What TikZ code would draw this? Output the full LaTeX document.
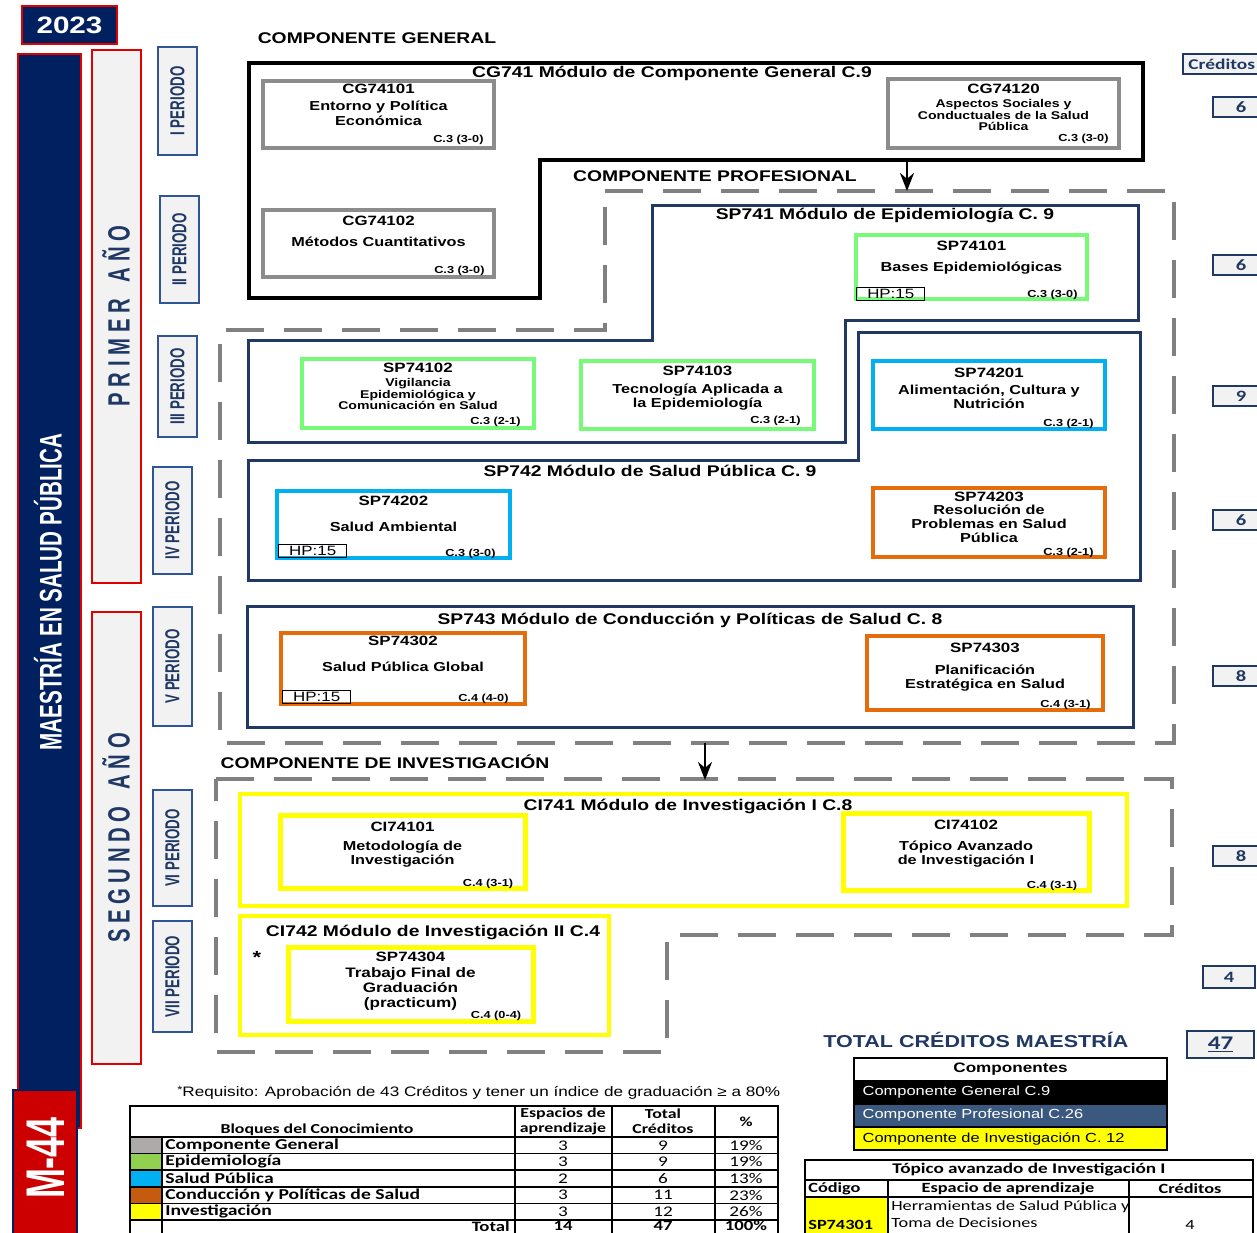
\documentclass[tikz,border=0pt]{standalone}
\usepackage{fontspec}
\setmainfont{Liberation Sans}
\newfontfamily\wfont[FakeStretch=1.25]{Liberation Sans}
\newfontfamily\vfont[FakeStretch=0.66]{Liberation Sans}
\newfontfamily\cfont[FakeStretch=1.3]{Carlito}
\usetikzlibrary{arrows,arrows.meta,positioning,fit,calc}
\definecolor{navybar}{RGB}{0,32,96}
\definecolor{modblue}{RGB}{31,56,100}
\definecolor{perblue}{RGB}{47,85,151}
\definecolor{redline}{RGB}{225,0,0}
\definecolor{m44red}{RGB}{204,0,0}
\definecolor{paper}{RGB}{242,242,242}
\definecolor{boxgray}{RGB}{140,140,140}
\definecolor{dashgray}{RGB}{128,128,128}
\definecolor{epigreen}{RGB}{119,250,119}
\definecolor{spcyan}{RGB}{0,176,240}
\definecolor{condorange}{RGB}{228,108,10}
\definecolor{invyellow}{RGB}{255,255,0}
\definecolor{profblue}{RGB}{59,89,126}
\definecolor{swgray}{RGB}{174,170,170}
\definecolor{swgreen}{RGB}{146,208,80}
\definecolor{swbrown}{RGB}{197,90,17}
\tikzset{
    course/.style={
        draw=#1,
        line width=0.75mm,
        inner sep=0pt,
    },
    ccode/.style={
        inner sep=0pt,
        font=\wfont\bfseries\fontsize{7.7}{8}\selectfont,
    },
    cdesc/.style={
        inner sep=0pt,
        align=center,
        font=\wfont\bfseries\fontsize{7.4}{8}\selectfont,
    },
    cdescs/.style={
        inner sep=0pt,
        align=center,
        font=\wfont\bfseries\fontsize{6.4}{6.8}\selectfont,
    },
    ccred/.style={
        inner sep=0pt,
        font=\wfont\bfseries\fontsize{5.8}{6}\selectfont,
    },
    hpbox/.style={
        draw=black,
        line width=0.25mm,
        inner sep=0pt,
        minimum width=13.6mm,
        minimum height=2.6mm,
        font=\wfont\fontsize{7.7}{8}\selectfont,
    },
    modtitle/.style={
        inner sep=0pt,
        anchor=base,
        font=\wfont\bfseries\fontsize{8.8}{9}\selectfont,
    },
    modline/.style={
        draw=modblue,
        line width=0.6mm,
    },
    zone/.style={
        draw=dashgray,
        line width=0.7mm,
        dash pattern=on 7.6mm off 4mm,
    },
    perbox/.style={
        draw=perblue,
        fill=paper,
        line width=0.3mm,
        inner sep=0pt,
    },
    vlabel/.style={
        rotate=90,
        inner sep=0pt,
        font=\vfont\bfseries\fontsize{11.5}{12}\selectfont,
        text=modblue,
    },
    credbox/.style={
        draw=modblue,
        fill=paper,
        line width=0.35mm,
        inner sep=0pt,
    },
    credtxt/.style={
        inner sep=0pt,
        font=\cfont\bfseries\fontsize{9}{10}\selectfont,
        text=modblue,
    },
    tcell/.style={
        inner sep=0pt,
        font=\cfont\fontsize{8.4}{9}\selectfont,
    },
}

\begin{document}
\begin{tikzpicture}[x=0.2mm,y=-0.2mm,>={Stealth[length=3.6mm,width=2.8mm]}]
    \useasboundingbox (0,0) rectangle (1257,1232);
    \clip (0,0) rectangle (1257,1232);
    \fill[white] (0,0) rectangle (1257,1232);

    \node[draw=redline, fill=navybar, line width=0.5mm, inner sep=0pt, fit={(22,6)(117,44)}] (Y2023) {};
    \node[text=white, font=\wfont\bfseries\fontsize{13.5}{14}\selectfont] (Y2023-t) at (Y2023) {2023};
    \node[draw=redline, fill=navybar, line width=0.3mm, inner sep=0pt, fit={(18,54)(81,1128)}] (mbar) {};
    \node[vlabel, text=white, font=\vfont\bfseries\fontsize{17.8}{18}\selectfont] (mbar-t) at (48,592) {MAESTRÍA EN SALUD PÚBLICA};
    \node[draw=navybar, fill=m44red, line width=0.3mm, inner sep=0pt, fit={(13,1090)(77,1250)}] (M44) {};
    \node[vlabel, text=white, font=\vfont\bfseries\fontsize{31}{32}\selectfont] (M44-t) at (46,1158) {M-44};
    \node[draw=redline, fill=paper, line width=0.3mm, inner sep=0pt, fit={(92,50)(141,583)}] (A1) {};
    \node[vlabel, font=\vfont\bfseries\fontsize{17.5}{18}\selectfont] (A1-t) at (116,316) {P R I M E R \ \ A Ñ O};
    \node[draw=redline, fill=paper, line width=0.3mm, inner sep=0pt, fit={(92,612)(141,1064)}] (A2) {};
    \node[vlabel, font=\vfont\bfseries\fontsize{17.5}{18}\selectfont] (A2-t) at (116,838) {S E G U N D O \ \ A Ñ O};
    \foreach \nm/\xa/\ya/\xb/\yb in {I/158/47/197/155, II/160/196/199/303, III/158/336/197/437, IV/153/467/192/574, V/153/607/192/726, VI/153/790/192/906, VII/153/921/192/1032} {
        \node[perbox, fit={(\xa,\ya)(\xb,\yb)}] (per\nm) {};
        \node[vlabel] (per\nm-t) at (per\nm) {\nm\ PERIODO};
    }

    \draw[zone] (605,191) -- (1174,191) -- (1174,743) -- (220,743) -- (220,330) -- (605,330) -- cycle;
    \draw[zone] (216,779) -- (1172,779) -- (1172,935) -- (667,935) -- (667,1052) -- (216,1052) -- cycle;

    \node[modtitle] (compGen) at (377,43.5) {COMPONENTE GENERAL};
    \node[modtitle] (compProf) at (715,181.5) {COMPONENTE PROFESIONAL};
    \node[modtitle] (compInv) at (385,768.5) {COMPONENTE DE INVESTIGACIÓN};

    \draw[line width=0.8mm] (249,63) -- (1143,63) -- (1143,160) -- (540,160) -- (540,298) -- (249,298) -- cycle;
    \node[modtitle] (CG741) at (672,77.5) {CG741 Módulo de Componente General C.9};
    \draw[modline] (652,205) -- (1138,205) -- (1138,320) -- (845,320) -- (845,442) -- (248,442) -- (248,340) -- (652,340) -- cycle;
    \node[modtitle] (SP741) at (885,219.5) {SP741 Módulo de Epidemiología C. 9};
    \draw[modline] (858,332) -- (1140,332) -- (1140,580) -- (248,580) -- (248,460) -- (858,460) -- cycle;
    \node[modtitle] (SP742) at (650,476.5) {SP742 Módulo de Salud Pública C. 9};
    \draw[modline] (247,606) rectangle (1133,727);
    \node[modtitle] (SP743) at (690,624.5) {SP743 Módulo de Conducción y Políticas de Salud C. 8};
    \draw[invyellow, line width=0.8mm] (240,794) rectangle (1127,906);
    \node[modtitle] (CI741) at (688,810.5) {CI741 Módulo de Investigación I C.8};
    \draw[invyellow, line width=0.8mm] (240,916) rectangle (609,1035);
    \node[modtitle] (CI742) at (433,936.5) {CI742 Módulo de Investigación II C.4};
    \node[font=\wfont\bfseries\fontsize{10}{10}\selectfont, inner sep=0pt] (star) at (257,957) {*};

    \coordinate (genOut) at (907,160);
    \coordinate (profIn) at (907,191);
    \coordinate (profOut) at (705,743);
    \coordinate (invIn) at (705,780);
    \draw[->, line width=0.45mm] (genOut) -- (profIn);
    \draw[->, line width=0.45mm] (profOut) -- (invIn);

    \node[course=boxgray, fit={(263,81)(494,148)}] (CG74101) {};
    \node[ccode, below=0.83mm of CG74101.north] (CG74101-c) {CG74101};
    \node[cdesc, below=1.5mm of CG74101-c] (CG74101-d) {Entorno y Política\\Económica};
    \node[ccred, above left=0.9mm and 2.4mm of CG74101.south east] (CG74101-k) {C.3 (3-0)};

    \node[course=boxgray, fit={(888,79)(1119,148)}] (CG74120) {};
    \node[ccode, below=1.4mm of CG74120.north] (CG74120-c) {CG74120};
    \node[cdescs, below=0.83mm of CG74120-c] (CG74120-d) {Aspectos Sociales y\\Conductuales de la Salud\\Pública};
    \node[ccred, above left=1.1mm and 2.4mm of CG74120.south east] (CG74120-k) {C.3 (3-0)};

    \node[course=boxgray, fit={(263,210)(494,277)}] (CG74102) {};
    \node[ccode, below=1.6mm of CG74102.north] (CG74102-c) {CG74102};
    \node[cdesc, below=2.1mm of CG74102-c] (CG74102-d) {Métodos Cuantitativos};
    \node[ccred, above left=0.5mm and 2.2mm of CG74102.south east] (CG74102-k) {C.3 (3-0)};

    \node[course=epigreen, fit={(856,235)(1087,299)}] (SP74101) {};
    \node[ccode, below=1.6mm of SP74101.north] (SP74101-c) {SP74101};
    \node[cdesc, below=2.1mm of SP74101-c] (SP74101-d) {Bases Epidemiológicas};
    \node[ccred, above left=0.1mm and 2.2mm of SP74101.south east] (SP74101-k) {C.3 (3-0)};
    \node[hpbox, above right=0mm and 0.4mm of SP74101.south west] (SP74101-h) {HP:15};

    \node[course=epigreen, fit={(302,359)(534,428)}] (SP74102) {};
    \node[ccode, below=1.2mm of SP74102.north] (SP74102-c) {SP74102};
    \node[cdescs, below=0.83mm of SP74102-c] (SP74102-d) {Vigilancia\\Epidemiológica y\\Comunicación en Salud};
    \node[ccred, above left=0.5mm and 3mm of SP74102.south east] (SP74102-k) {C.3 (2-1)};

    \node[course=epigreen, fit={(581,361)(814,429)}] (SP74103) {};
    \node[ccode, below=1.4mm of SP74103.north] (SP74103-c) {SP74103};
    \node[cdesc, below=1.5mm of SP74103-c] (SP74103-d) {Tecnología Aplicada a\\la Epidemiología};
    \node[ccred, above left=0.9mm and 3mm of SP74103.south east] (SP74103-k) {C.3 (2-1)};

    \node[course=spcyan, fit={(873,361)(1105,429)}] (SP74201) {};
    \node[ccode, below=1.8mm of SP74201.north] (SP74201-c) {SP74201};
    \node[cdesc, below=1.3mm of SP74201-c] (SP74201-d) {Alimentación, Cultura y\\Nutrición};
    \node[ccred, above left=0.3mm and 2.6mm of SP74201.south east] (SP74201-k) {C.3 (2-1)};

    \node[course=spcyan, fit={(277,491)(510,558)}] (SP74202) {};
    \node[ccode, below=1.4mm of SP74202.north] (SP74202-c) {SP74202};
    \node[cdesc, below=3.1mm of SP74202-c] (SP74202-d) {Salud Ambiental};
    \node[ccred, above left=0.1mm and 3.2mm of SP74202.south east] (SP74202-k) {C.3 (3-0)};
    \node[hpbox, above right=0.4mm and 0.6mm of SP74202.south west] (SP74202-h) {HP:15};

    \node[course=condorange, fit={(873,488)(1105,557)}] (SP74203) {};
    \node[ccode, below=1.2mm of SP74203.north] (SP74203-c) {SP74203};
    \node[cdesc, below=0.5mm of SP74203-c] (SP74203-d) {Resolución de\\Problemas en Salud\\Pública};
    \node[ccred, above left=0.1mm and 2.6mm of SP74203.south east] (SP74203-k) {C.3 (2-1)};

    \node[course=condorange, fit={(281,633)(525,704)}] (SP74302) {};
    \node[ccode, below=1mm of SP74302.north] (SP74302-c) {SP74302};
    \node[cdesc, below=3.1mm of SP74302-c] (SP74302-d) {Salud Pública Global};
    \node[ccred, above left=0.3mm and 3.6mm of SP74302.south east] (SP74302-k) {C.4 (4-0)};
    \node[hpbox, above right=0.4mm and 0.6mm of SP74302.south west] (SP74302-h) {HP:15};

    \node[course=condorange, fit={(867,636)(1103,710)}] (SP74303) {};
    \node[ccode, below=1.8mm of SP74303.north] (SP74303-c) {SP74303};
    \node[cdesc, below=2.3mm of SP74303-c] (SP74303-d) {Planificación\\Estratégica en Salud};
    \node[ccred, above left=0.3mm and 2.8mm of SP74303.south east] (SP74303-k) {C.4 (3-1)};

    \node[course=invyellow, line width=1mm, fit={(280,815)(525,888)}] (CI74101) {};
    \node[ccode, below=1.8mm of CI74101.north] (CI74101-c) {CI74101};
    \node[cdesc, below=1.7mm of CI74101-c] (CI74101-d) {Metodología de\\Investigación};
    \node[ccred, above left=0.3mm and 2.8mm of CI74101.south east] (CI74101-k) {C.4 (3-1)};

    \node[course=invyellow, line width=1mm, fit={(843,813)(1089,890)}] (CI74102) {};
    \node[ccode, below=1.8mm of CI74102.north] (CI74102-c) {CI74102};
    \node[cdesc, below=2.1mm of CI74102-c] (CI74102-d) {Tópico Avanzado\\de Investigación I};
    \node[ccred, above left=0.3mm and 2.8mm of CI74102.south east] (CI74102-k) {C.4 (3-1)};

    \node[course=invyellow, line width=1mm, fit={(288,947)(533,1021)}] (SP74304) {};
    \node[ccode, below=1.4mm of SP74304.north] (SP74304-c) {SP74304};
    \node[cdesc, font=\wfont\bfseries\fontsize{7.8}{8.4}\selectfont, below=1.1mm of SP74304-c] (SP74304-d) {Trabajo Final de\\Graduación\\(practicum)};
    \node[ccred, above left=0.5mm and 2.8mm of SP74304.south east] (SP74304-k) {C.4 (0-4)};

    \node[credbox, fit={(1183,54)(1275,74)}] (credHead) {};
    \node[credtxt, anchor=west, font=\cfont\bfseries\fontsize{8.5}{9}\selectfont] (credHead-t) at (1188,64) {Créditos};
    \foreach \v/\y in {6/107, 6/265, 9/396, 6/520, 8/676, 8/856} {
        \node[credbox, fit={(1213,\y-10)(1275,\y+10)}] (cr\y) {};
        \node[credtxt] (cr\y-t) at (1241,\y) {\v};
    }
    \node[credbox, fit={(1203,966)(1255,988)}] (cr977) {};
    \node[credtxt] (cr977-t) at (cr977) {4};
    \node[credbox, fit={(1187,1031)(1254,1058)}] (crTotal) {};
    \node[credtxt, font=\cfont\bfseries\fontsize{11}{12}\selectfont] (crTotal-t) at (crTotal) {\underline{47}};
    \node[anchor=base west, inner sep=0pt, text=modblue, font=\wfont\bfseries\fontsize{9.8}{10}\selectfont] (totLab) at (823,1047.5) {TOTAL CRÉDITOS MAESTRÍA};

    \node[draw=black, fill=white, line width=0.3mm, inner sep=0pt, fit={(854,1058)(1167,1081)}] (compH) {};
    \node[inner sep=0pt, font=\wfont\bfseries\fontsize{7.8}{8}\selectfont] (compH-t) at (compH) {Componentes};
    \foreach \txt/\bg/\fg [count=\i] in {Componente General C.9/black/white, Componente Profesional C.26/profblue/white, Componente de Investigación C. 12/invyellow/black} {
        \pgfmathsetmacro\yt{1081+(\i-1)*23}
        \node[draw=black, fill=\bg, line width=0.3mm, inner sep=0pt, fit={(854,\yt)(1167,\yt+23)}] (comp\i) {};
        \node[inner sep=0pt, text=\fg, font=\wfont\fontsize{7.5}{8}\selectfont, right=1.8mm of comp\i.west] (comp\i-t) {\txt};
    }

    \node[anchor=base west, inner sep=0pt, font=\wfont\fontsize{7.8}{8}\selectfont] (req) at (177,1096) {\raisebox{0.4ex}{\fontsize{6}{6}\selectfont*}Requisito: Aprobación de 43 Créditos y tener un índice de graduación ≥ a 80\%};

    \foreach \nm/\sw/\ea/\tc/\pc [count=\i] in {Componente General/swgray/3/9/19, Epidemiología/swgreen/3/9/19, Salud Pública/spcyan/2/6/13, Conducción y Políticas de Salud/swbrown/3/11/23, Investigación/invyellow/3/12/26} {
        \pgfmathsetmacro\yc{1137+(\i-0.5)*16.6}
        \fill[\sw] (130,\yc-8.3) rectangle (162,\yc+8.3);
        \node[tcell, anchor=west, font=\cfont\bfseries\fontsize{8.6}{9}\selectfont] (bq\i) at (165,\yc) {\nm};
        \node[tcell] (bq\i-e) at (563,\yc) {\ea};
        \node[tcell] (bq\i-c) at (663,\yc) {\tc};
        \node[tcell] (bq\i-p) at (746,\yc) {\pc\%};
    }
    \draw[line width=0.3mm] (130,1106) rectangle (778,1250);
    \foreach \x in {515,612,715} \draw[line width=0.3mm] (\x,1106) -- (\x,1250);
    \draw[line width=0.3mm] (162,1137) -- (162,1250);
    \foreach \y in {1137,1153.6,1170.2,1186.8,1203.4,1220} \draw[line width=0.3mm] (130,\y) -- (778,\y);
    \node[tcell, font=\cfont\bfseries\fontsize{7.8}{8}\selectfont, anchor=base] (bqH) at (317,1133) {Bloques del Conocimiento};
    \node[tcell, font=\cfont\bfseries\fontsize{7.8}{8.6}\selectfont, align=center] (bqH-e) at (563,1121) {Espacios de\\aprendizaje};
    \node[tcell, font=\cfont\bfseries\fontsize{7.8}{8.6}\selectfont, align=center] (bqH-c) at (663,1121) {Total\\Créditos};
    \node[tcell, font=\cfont\bfseries\fontsize{7.8}{8}\selectfont] (bqH-p) at (746,1122) {\%};
    \node[tcell, font=\cfont\bfseries\fontsize{8.2}{9}\selectfont, anchor=east] (bqT) at (510,1226) {Total};
    \node[tcell, font=\cfont\bfseries\fontsize{8.2}{9}\selectfont] (bqT-e) at (563,1226) {14};
    \node[tcell, font=\cfont\bfseries\fontsize{8.2}{9}\selectfont] (bqT-c) at (663,1226) {47};
    \node[tcell, font=\cfont\bfseries\fontsize{8.2}{9}\selectfont] (bqT-p) at (746,1226) {100\%};

    \fill[invyellow] (805,1197) rectangle (888,1250);
    \draw[line width=0.3mm] (805,1160) rectangle (1253,1250);
    \draw[line width=0.3mm] (805,1180) -- (1253,1180);
    \draw[line width=0.3mm] (805,1197) -- (1253,1197);
    \draw[line width=0.3mm] (888,1180) -- (888,1250);
    \draw[line width=0.3mm] (1129,1180) -- (1129,1250);
    \node[tcell, font=\cfont\bfseries\fontsize{8.4}{9}\selectfont] (topT) at (1029,1170) {Tópico avanzado de Investigación I};
    \node[tcell, font=\cfont\bfseries\fontsize{8}{9}\selectfont, anchor=west] (topC) at (808,1189) {Código};
    \node[tcell, font=\cfont\bfseries\fontsize{8}{9}\selectfont] (topE) at (1008,1189) {Espacio de aprendizaje};
    \node[tcell, font=\cfont\bfseries\fontsize{8}{9}\selectfont] (topK) at (1190,1189) {Créditos};
    \node[tcell, font=\cfont\bfseries\fontsize{8}{9}\selectfont, anchor=west] (topR) at (808,1225) {SP74301};
    \node[tcell, font=\cfont\fontsize{8}{9.6}\selectfont, anchor=north west, align=left] (topR-e) at (891,1200) {Herramientas de Salud Pública y\\Toma de Decisiones};
    \node[tcell, font=\cfont\fontsize{8}{9}\selectfont] (topR-k) at (1190,1225) {4};
\end{tikzpicture}
\end{document}
